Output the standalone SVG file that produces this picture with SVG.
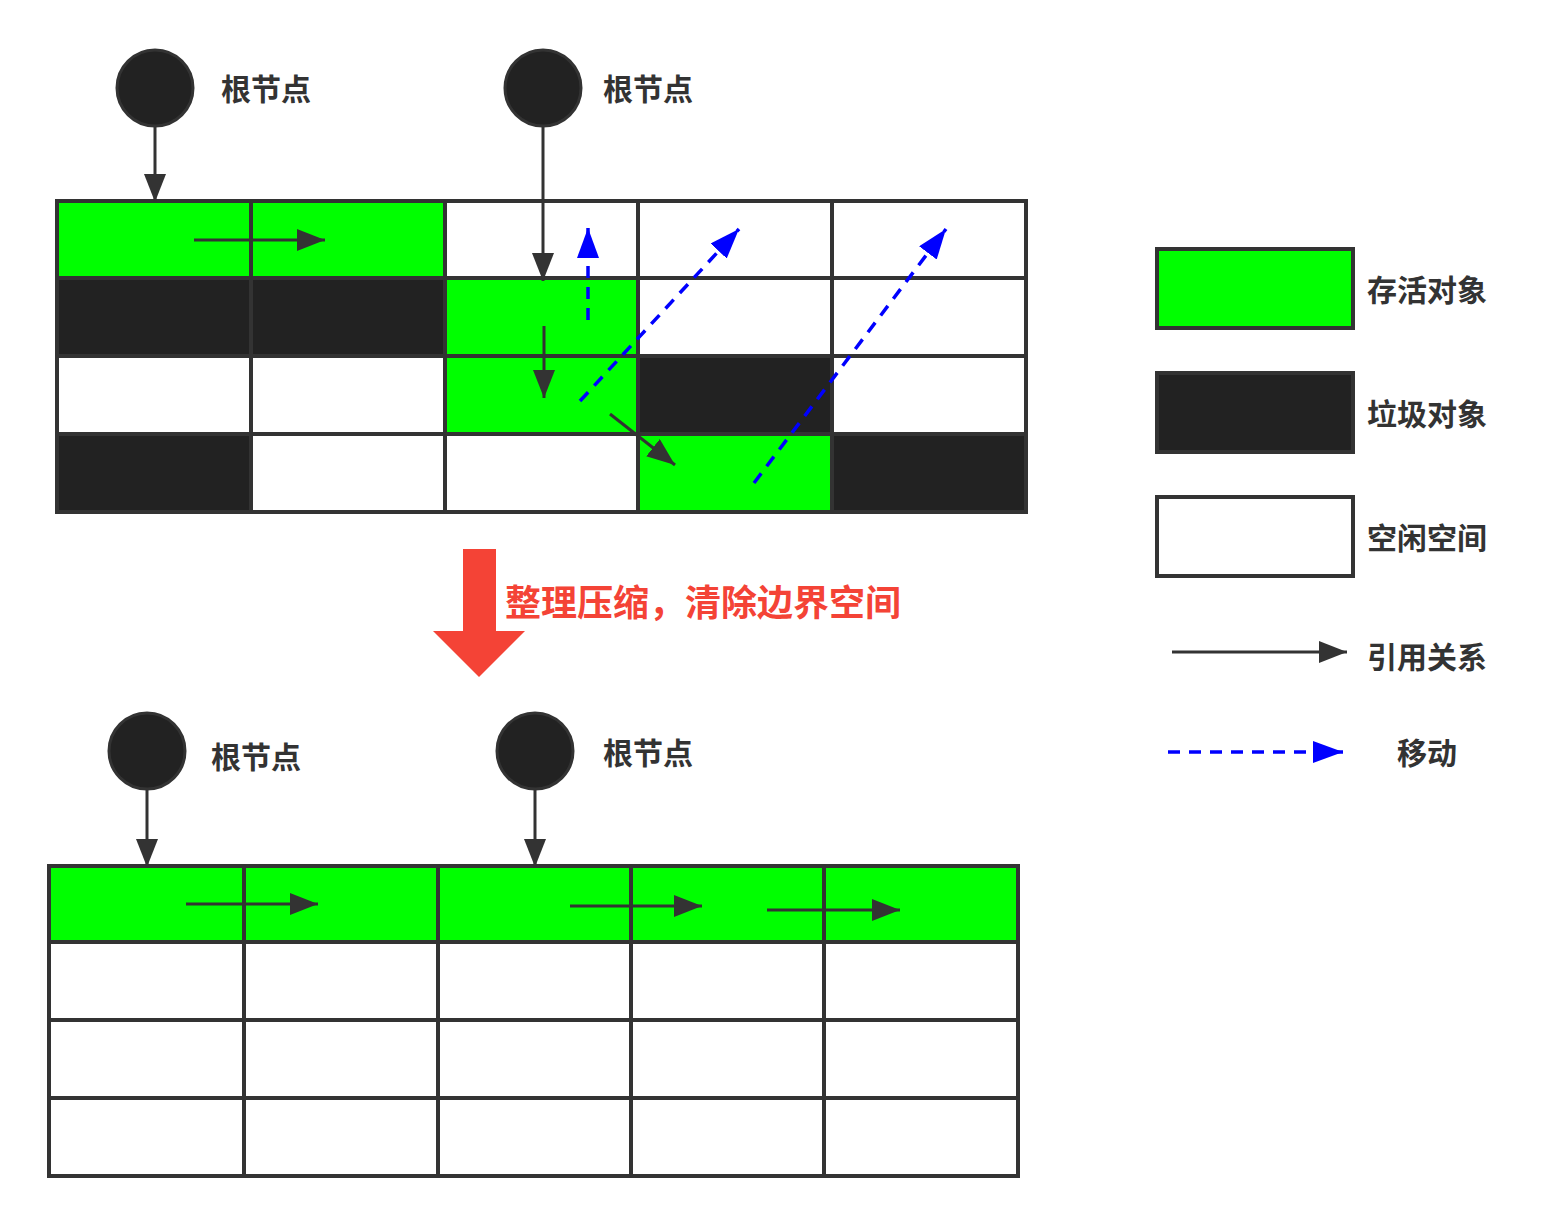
<svg xmlns="http://www.w3.org/2000/svg" width="1541" height="1225" viewBox="0 0 1541 1225">
<style>
.g{fill:#00ff00;stroke:#333;stroke-width:4}
.k{fill:#222;stroke:#333;stroke-width:4}
.w{fill:#fff;stroke:#333;stroke-width:4}
.root{fill:#222;stroke:#333;stroke-width:3}
.t{font-family:"Noto Sans CJK SC","Noto Sans",sans-serif;font-weight:bold;font-size:30px;fill:#333}
.red{font-family:"Noto Sans CJK SC","Noto Sans",sans-serif;font-weight:bold;font-size:36px;fill:#f44336}
.ref{stroke:#333;stroke-width:3;fill:none}
.mv{stroke:#0000ff;stroke-width:3.5;fill:none;stroke-dasharray:12 9}
</style>
<defs>
<marker id="ah" markerUnits="userSpaceOnUse" markerWidth="30" markerHeight="24" refX="28" refY="11" orient="auto"><path d="M0,0 L28,11 L0,22 Z" fill="#333"/></marker>
<marker id="bh" markerUnits="userSpaceOnUse" markerWidth="32" markerHeight="24" refX="30" refY="11" orient="auto"><path d="M0,0 L30,11 L0,22 Z" fill="#0000ff"/></marker>
</defs>
<rect width="1541" height="1225" fill="#fff"/>

<g id="top-grid">
<rect class="g" x="57" y="201" width="194" height="77"/>
<rect class="g" x="251" y="201" width="194" height="77"/>
<rect class="w" x="445" y="201" width="193" height="77"/>
<rect class="w" x="638" y="201" width="194" height="77"/>
<rect class="w" x="832" y="201" width="194" height="77"/>
<rect class="k" x="57" y="278" width="194" height="78"/>
<rect class="k" x="251" y="278" width="194" height="78"/>
<rect class="g" x="445" y="278" width="193" height="78"/>
<rect class="w" x="638" y="278" width="194" height="78"/>
<rect class="w" x="832" y="278" width="194" height="78"/>
<rect class="w" x="57" y="356" width="194" height="78"/>
<rect class="w" x="251" y="356" width="194" height="78"/>
<rect class="g" x="445" y="356" width="193" height="78"/>
<rect class="k" x="638" y="356" width="194" height="78"/>
<rect class="w" x="832" y="356" width="194" height="78"/>
<rect class="k" x="57" y="434" width="194" height="78"/>
<rect class="w" x="251" y="434" width="194" height="78"/>
<rect class="w" x="445" y="434" width="193" height="78"/>
<rect class="g" x="638" y="434" width="194" height="78"/>
<rect class="k" x="832" y="434" width="194" height="78"/>
</g>

<g id="bottom-grid">
<rect class="g" x="49" y="866" width="195" height="76"/>
<rect class="g" x="244" y="866" width="194" height="76"/>
<rect class="g" x="438" y="866" width="193" height="76"/>
<rect class="g" x="631" y="866" width="193" height="76"/>
<rect class="g" x="824" y="866" width="194" height="76"/>
<rect class="w" x="49" y="942" width="195" height="78"/>
<rect class="w" x="244" y="942" width="194" height="78"/>
<rect class="w" x="438" y="942" width="193" height="78"/>
<rect class="w" x="631" y="942" width="193" height="78"/>
<rect class="w" x="824" y="942" width="194" height="78"/>
<rect class="w" x="49" y="1020" width="195" height="78"/>
<rect class="w" x="244" y="1020" width="194" height="78"/>
<rect class="w" x="438" y="1020" width="193" height="78"/>
<rect class="w" x="631" y="1020" width="193" height="78"/>
<rect class="w" x="824" y="1020" width="194" height="78"/>
<rect class="w" x="49" y="1098" width="195" height="78"/>
<rect class="w" x="244" y="1098" width="194" height="78"/>
<rect class="w" x="438" y="1098" width="193" height="78"/>
<rect class="w" x="631" y="1098" width="193" height="78"/>
<rect class="w" x="824" y="1098" width="194" height="78"/>
</g>

<g id="root1"><circle class="root" cx="155" cy="88" r="38"/><text class="t" x="221" y="100">根节点</text></g>
<g id="root2"><circle class="root" cx="543" cy="88" r="38"/><text class="t" x="603" y="100">根节点</text></g>
<g id="root3"><circle class="root" cx="147" cy="751" r="38"/><text class="t" x="211" y="768">根节点</text></g>
<g id="root4"><circle class="root" cx="535" cy="751" r="38"/><text class="t" x="603" y="764">根节点</text></g>

<g id="compact">
<path d="M463,549 H496 V631 H525 L479,677 L433,631 H463 Z" fill="#f44336"/>
<text class="red" x="505" y="616">整理压缩，清除边界空间</text>
</g>

<g id="legend">
<rect class="g" x="1157" y="249" width="196" height="79"/>
<text class="t" x="1367" y="301">存活对象</text>
<rect class="k" x="1157" y="373" width="196" height="79"/>
<text class="t" x="1367" y="425">垃圾对象</text>
<rect class="w" x="1157" y="497" width="196" height="79"/>
<text class="t" x="1367" y="549">空闲空间</text>
<line class="ref" x1="1172" y1="652" x2="1347" y2="652" marker-end="url(#ah)"/>
<text class="t" x="1367" y="668">引用关系</text>
<line class="mv" x1="1168" y1="752" x2="1343" y2="752" marker-end="url(#bh)"/>
<text class="t" x="1397" y="764">移动</text>
</g>

<g id="connectors">
<line class="ref" x1="155" y1="127" x2="155" y2="202" marker-end="url(#ah)"/>
<line class="ref" x1="194" y1="240" x2="325" y2="240" marker-end="url(#ah)"/>
<line class="ref" x1="543" y1="127" x2="543" y2="281" marker-end="url(#ah)"/>
<line class="ref" x1="544" y1="326" x2="544" y2="398" marker-end="url(#ah)"/>
<line class="ref" x1="610" y1="414" x2="675" y2="465" marker-end="url(#ah)"/>
<line class="mv" x1="588" y1="320" x2="588" y2="228" marker-end="url(#bh)"/>
<line class="mv" x1="580" y1="401" x2="739" y2="229" marker-end="url(#bh)"/>
<line class="mv" x1="754" y1="483" x2="946" y2="229" marker-end="url(#bh)"/>
<line class="ref" x1="147" y1="790" x2="147" y2="867" marker-end="url(#ah)"/>
<line class="ref" x1="535" y1="790" x2="535" y2="867" marker-end="url(#ah)"/>
<line class="ref" x1="186" y1="904" x2="318" y2="904" marker-end="url(#ah)"/>
<line class="ref" x1="570" y1="906" x2="702" y2="906" marker-end="url(#ah)"/>
<line class="ref" x1="767" y1="910" x2="900" y2="910" marker-end="url(#ah)"/>
</g>
</svg>
